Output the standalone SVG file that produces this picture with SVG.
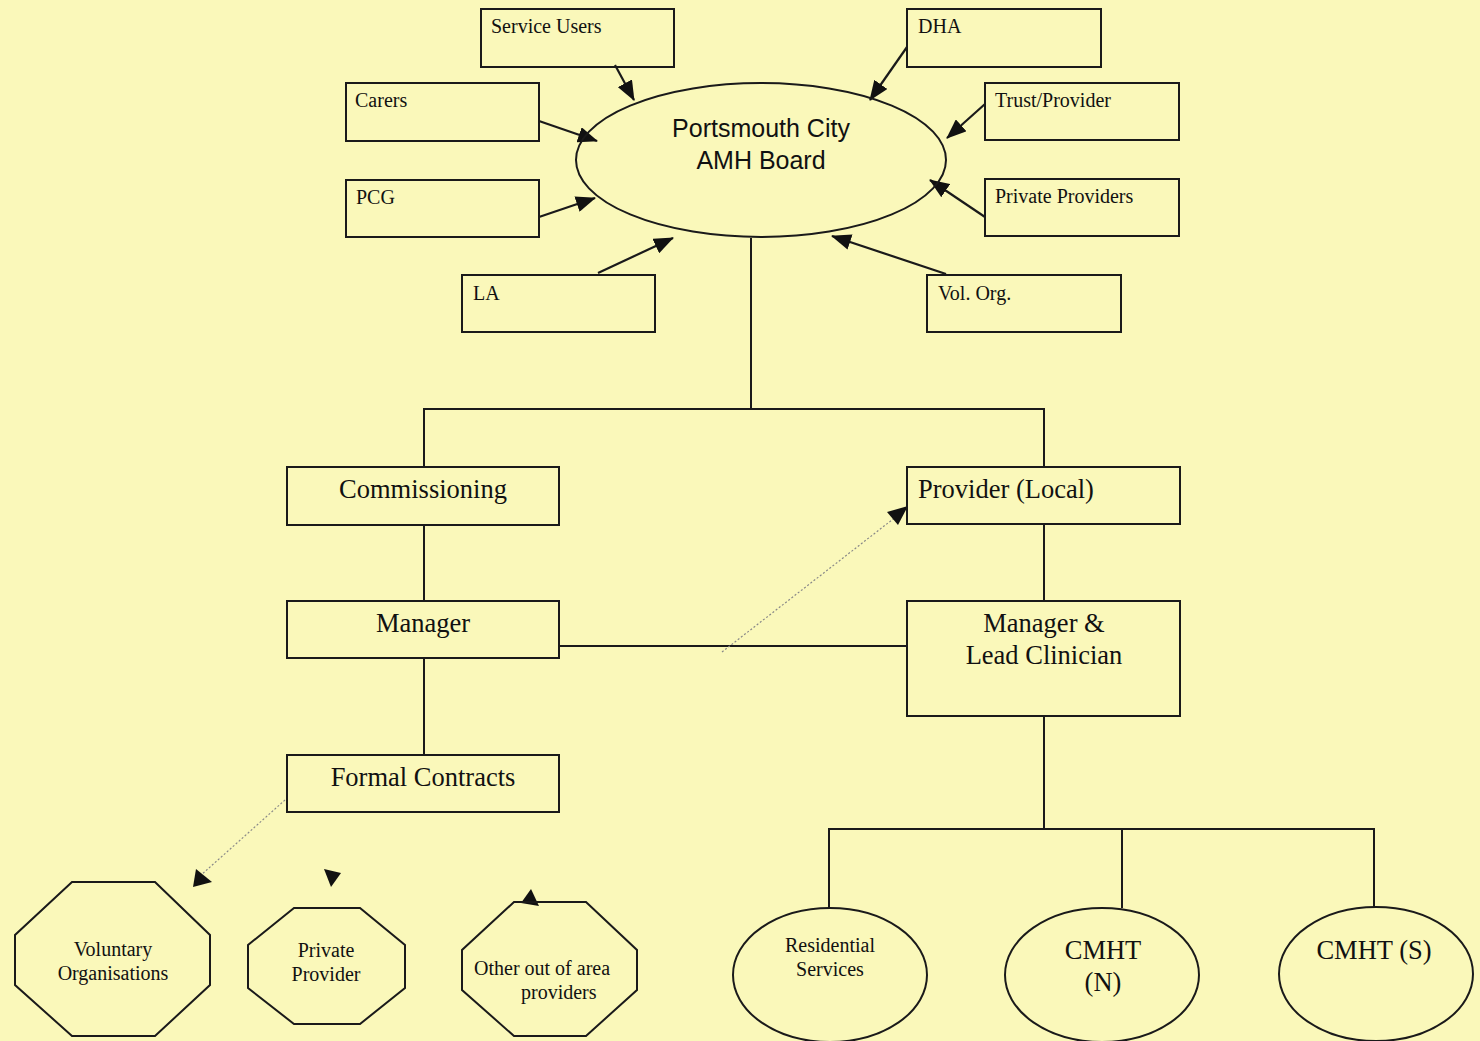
<svg xmlns="http://www.w3.org/2000/svg" width="1480" height="1041" viewBox="0 0 1480 1041">
<defs>
<marker id="ah" viewBox="0 0 20 16" refX="19" refY="8" markerWidth="20" markerHeight="16" markerUnits="userSpaceOnUse" orient="auto"><path d="M0,0 L20,8 L0,16 z" fill="#111"/></marker>
<style>
.box{fill:none;stroke:#1a1a1a;stroke-width:2}
.ln{fill:none;stroke:#1a1a1a;stroke-width:2}
.arr{fill:none;stroke:#1a1a1a;stroke-width:2.2;marker-end:url(#ah)}
.dot{fill:none;stroke:#888;stroke-width:1.2;stroke-dasharray:2 2}
.s{font-family:"Liberation Serif",serif;font-size:20px;fill:#111}
.m{font-family:"Liberation Serif",serif;font-size:26.5px;fill:#111}
.p{font-family:"Liberation Sans",sans-serif;font-size:25px;fill:#111}
.c{text-anchor:middle}
.head{fill:#111}
</style>
</defs>
<rect width="1480" height="1041" fill="#FAF8BA"/>
<g id="connectors">
<line class="arr" x1="615" y1="65" x2="634" y2="100"/>
<line class="arr" x1="539" y1="121" x2="597" y2="141"/>
<line class="arr" x1="539" y1="217" x2="595" y2="198"/>
<line class="arr" x1="598" y1="273" x2="673" y2="238"/>
<line class="arr" x1="907" y1="47" x2="870" y2="100"/>
<line class="arr" x1="985" y1="104" x2="947" y2="138"/>
<line class="arr" x1="985" y1="217" x2="930" y2="180"/>
<line class="arr" x1="946" y1="274" x2="832" y2="236"/>
<polyline class="ln" points="751,238 751,409"/>
<polyline class="ln" points="424,467 424,409 1044,409 1044,467"/>
<line class="ln" x1="424" y1="525" x2="424" y2="601"/>
<line class="ln" x1="424" y1="658" x2="424" y2="755"/>
<line class="ln" x1="1044" y1="524" x2="1044" y2="601"/>
<line class="ln" x1="559" y1="646" x2="907" y2="646"/>
<line class="ln" x1="1044" y1="716" x2="1044" y2="829"/>
<polyline class="ln" points="829,908 829,829 1374,829 1374,907"/>
<line class="ln" x1="1122" y1="829" x2="1122" y2="908"/>
<line class="dot" x1="722" y1="652" x2="897" y2="516"/>
<polygon class="head" points="908,506 898,525 887,512"/>
<line class="dot" x1="285" y1="800" x2="200" y2="876" stroke="#bbb"/>
<polygon class="head" points="196,869 212,882 193,887"/>
<polygon class="head" points="324,869 341,873 331,887"/>
<polygon class="head" points="531,889 539,906 521,903"/>
</g>
<g id="board"><ellipse class="box" cx="761" cy="160" rx="185" ry="77"/><text class="p c" x="761" y="137">Portsmouth City</text><text class="p c" x="761" y="169">AMH Board</text></g>
<g id="service-users"><rect class="box" x="481" y="9" width="193" height="58"/><text class="s" x="491" y="33">Service Users</text></g>
<g id="carers"><rect class="box" x="346" y="83" width="193" height="58"/><text class="s" x="355" y="107">Carers</text></g>
<g id="pcg"><rect class="box" x="346" y="180" width="193" height="57"/><text class="s" x="356" y="204">PCG</text></g>
<g id="la"><rect class="box" x="462" y="275" width="193" height="57"/><text class="s" x="473" y="300">LA</text></g>
<g id="dha"><rect class="box" x="907" y="9" width="194" height="58"/><text class="s" x="918" y="33">DHA</text></g>
<g id="trust"><rect class="box" x="985" y="83" width="194" height="57"/><text class="s" x="995" y="107">Trust/Provider</text></g>
<g id="private-providers"><rect class="box" x="985" y="179" width="194" height="57"/><text class="s" x="995" y="203">Private Providers</text></g>
<g id="vol-org"><rect class="box" x="927" y="275" width="194" height="57"/><text class="s" x="938" y="300">Vol. Org.</text></g>
<g id="commissioning"><rect class="box" x="287" y="467" width="272" height="58"/><text class="m c" x="423" y="498">Commissioning</text></g>
<g id="provider-local"><rect class="box" x="907" y="467" width="273" height="57"/><text class="m" x="918" y="498">Provider (Local)</text></g>
<g id="manager"><rect class="box" x="287" y="601" width="272" height="57"/><text class="m c" x="423" y="632">Manager</text></g>
<g id="manager-lead"><rect class="box" x="907" y="601" width="273" height="115"/><text class="m c" x="1044" y="632">Manager &amp;</text><text class="m c" x="1044" y="664">Lead Clinician</text></g>
<g id="formal-contracts"><rect class="box" x="287" y="755" width="272" height="57"/><text class="m c" x="423" y="786">Formal Contracts</text></g>
<g id="voluntary"><polygon class="box" points="72,882 155,882 210,935 210,985 155,1036 72,1036 15,985 15,935"/><text class="s c" x="113" y="956">Voluntary</text><text class="s c" x="113" y="980">Organisations</text></g>
<g id="private-provider"><polygon class="box" points="294,908 360,908 405,945 405,988 360,1024 294,1024 248,988 248,945"/><text class="s c" x="326" y="957">Private</text><text class="s c" x="326" y="981">Provider</text></g>
<g id="other-providers"><polygon class="box" points="514,902 586,902 637,950 637,990 586,1036 514,1036 462,990 462,950"/><text class="s" x="474" y="975">Other out of area</text><text class="s" x="521" y="999">providers</text></g>
<g id="residential"><ellipse class="box" cx="830" cy="975" rx="97" ry="67"/><text class="s c" x="830" y="952">Residential</text><text class="s c" x="830" y="976">Services</text></g>
<g id="cmht-n"><ellipse class="box" cx="1102" cy="975" rx="97" ry="67"/><text class="m c" x="1103" y="959">CMHT</text><text class="m c" x="1103" y="991">(N)</text></g>
<g id="cmht-s"><ellipse class="box" cx="1376" cy="974" rx="97" ry="67"/><text class="m c" x="1374" y="959">CMHT (S)</text></g>
</svg>
